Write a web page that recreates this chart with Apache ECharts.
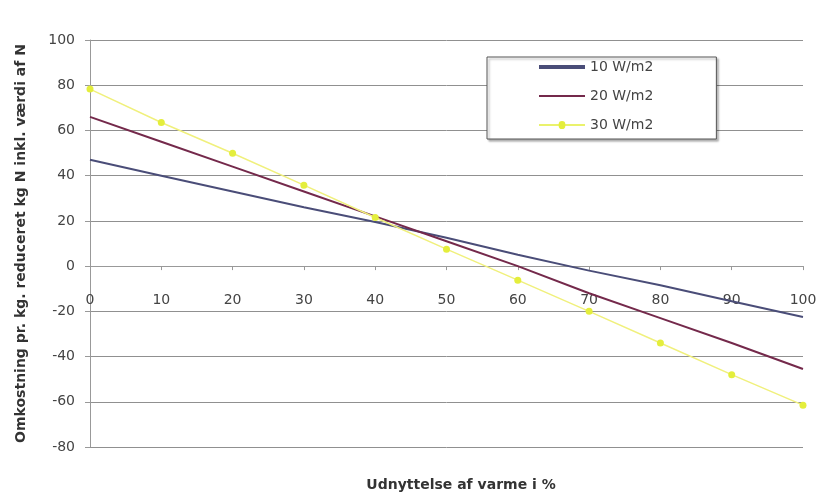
<!DOCTYPE html>
<html>
<head>
<meta charset="utf-8">
<script src="https://cdn.jsdelivr.net/npm/echarts@6/dist/echarts.min.js"></script>
<style>html,body{margin:0;padding:0;background:#fff}#c{width:821px;height:493px}</style>
</head>
<body>
<div id="c"></div>
<script>
const xValues = [0, 10, 20, 30, 40, 50, 60, 70, 80, 90, 100];
const w10 = [47, 40, 33, 26, 19.5, 12.5, 5, -2, -8.5, -15.5, -22.5];
const w20 = [66, 55, 44, 33, 22, 11, 0, -12, -23, -34, -45.5];
const w30 = [78.3, 63.5, 49.9, 35.8, 21.5, 7.5, -6.2, -20, -34, -48, -61.5];
const seriesNames = ['10 W/m2', '20 W/m2', '30 W/m2'];
const yTitle = 'Omkostning pr. kg. reduceret kg N inkl. værdi af N';
const xTitle = 'Udnyttelse af varme i %';

const pair = arr => xValues.map((x, i) => [x, arr[i]]);
const font = 'DejaVu Sans';
const c10 = '#4a4d78', c20 = '#74294b', c30line = '#f0f07c', c30mark = '#e4ee3c';
const chart = echarts.init(document.getElementById('c'), null, {renderer: 'canvas'});
chart.setOption({
  animation: false,
  backgroundColor: '#fff',
  textStyle: {fontFamily: font},
  title: {
    text: xTitle, left: 456, top: 473, textAlign: 'center',
    textStyle: {fontSize: 14, fontWeight: 'bold', color: '#333', fontFamily: font}
  },
  grid: {left: 90, right: 18, top: 40, bottom: 46, containLabel: false},
  legend: {
    orient: 'vertical', left: 487, top: 57,
    padding: [3, 63, 7, 52], itemGap: 15, itemWidth: 46, itemHeight: 14,
    backgroundColor: '#fff', borderColor: '#555', borderWidth: 1,
    shadowColor: 'rgba(0,0,0,0.3)', shadowBlur: 2, shadowOffsetX: 2, shadowOffsetY: 2,
    textStyle: {fontSize: 14, color: '#444', fontFamily: font},
    data: [
      {name: seriesNames[0], icon: 'path://M0,0H48V4H0Z', itemStyle: {color: c10}},
      {name: seriesNames[1], icon: 'path://M0,0H48V2H0Z', itemStyle: {color: c20}},
      {name: seriesNames[2], icon: 'path://M0,-0.75H20.5A3.5,3.5 0 0 1 27.5,-0.75H48V0.75H27.5A3.5,3.5 0 0 1 20.5,0.75H0Z', itemStyle: {color: c30mark}}
    ]
  },
  xAxis: {
    type: 'value', min: 0, max: 100, interval: 10,
    offset: -180.9,
    axisLine: {onZero: false, lineStyle: {color: '#999', width: 1}},
    axisTick: {show: true, length: 4, lineStyle: {color: '#999'}},
    axisLabel: {margin: 27, fontSize: 14, color: '#444', fontFamily: font},
    splitLine: {show: false}
  },
  yAxis: {
    type: 'value', min: -80, max: 100, interval: 20,
    name: yTitle, nameLocation: 'middle', nameGap: 62, nameRotate: 90,
    nameTextStyle: {fontSize: 14, fontWeight: 'bold', color: '#333', fontFamily: font},
    axisLine: {show: true, onZero: false, lineStyle: {color: '#999', width: 1}},
    axisTick: {show: true, length: 5, lineStyle: {color: '#999'}},
    axisLabel: {margin: 15, fontSize: 14, color: '#444', fontFamily: font},
    splitLine: {show: true, lineStyle: {color: '#909090', width: 1}}
  },
  series: [
    {
      name: seriesNames[0], type: 'line', data: pair(w10), showSymbol: false, symbol: 'none',
      lineStyle: {color: c10, width: 2}, itemStyle: {color: c10}
    },
    {
      name: seriesNames[1], type: 'line', data: pair(w20), showSymbol: false, symbol: 'none',
      lineStyle: {color: c20, width: 2}, itemStyle: {color: c20}
    },
    {
      name: seriesNames[2], type: 'line', data: pair(w30), symbol: 'circle', symbolSize: 7,
      lineStyle: {color: c30line, width: 1.5}, itemStyle: {color: c30mark}
    }
  ]
});
</script>
</body>
</html>
